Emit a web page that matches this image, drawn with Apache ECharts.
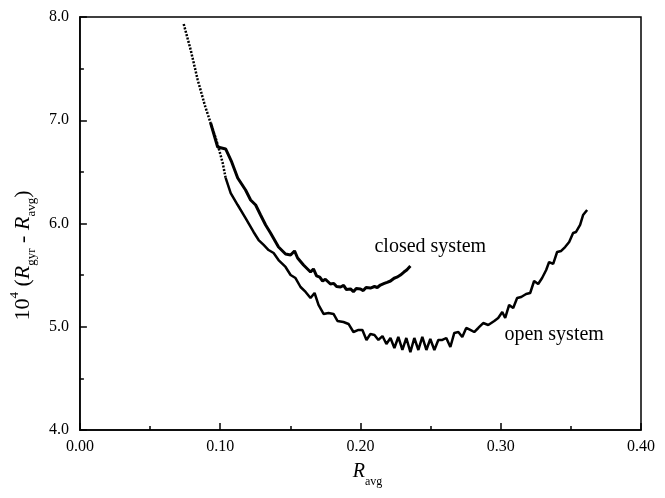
<!DOCTYPE html>
<html>
<head>
<meta charset="utf-8">
<script src="https://cdn.jsdelivr.net/npm/echarts@6/dist/echarts.min.js"></script>
<style>
  html, body { margin: 0; padding: 0; background: #fff; }
  #chart { width: 665px; height: 498px; }
</style>
</head>
<body>
<div id="chart"></div>
<script>
// open system: R_avg and 10^4 (R_gyr - R_avg)
const openR = [
  0.0740, 0.0790, 0.0840, 0.0890, 0.0932, 0.0968, 0.0989, 0.1018, 0.1039, 0.1075,
  0.1125, 0.1181, 0.1238, 0.1274, 0.1310, 0.1345, 0.1381, 0.1416, 0.1466, 0.1502,
  0.1537, 0.1573, 0.1609, 0.1644, 0.1673, 0.1701, 0.1737, 0.1772, 0.1808, 0.1836,
  0.1879, 0.1915, 0.1950, 0.1986, 0.2014, 0.2043, 0.2071, 0.2100, 0.2128, 0.2157,
  0.2185, 0.2214, 0.2242, 0.2270, 0.2299, 0.2327, 0.2356, 0.2384, 0.2413, 0.2441,
  0.2470, 0.2498, 0.2527, 0.2555, 0.2584, 0.2612, 0.2641, 0.2669, 0.2698, 0.2726,
  0.2754, 0.2783, 0.2811, 0.2840, 0.2875, 0.2911, 0.2954, 0.2982, 0.3011, 0.3032,
  0.3060, 0.3089, 0.3117, 0.3146, 0.3181, 0.3210, 0.3238, 0.3267, 0.3295, 0.3324,
  0.3345, 0.3374, 0.3402, 0.3431, 0.3459, 0.3488, 0.3516, 0.3537, 0.3566, 0.3587,
  0.3616
];
const openV = [
  7.932, 7.680, 7.390, 7.148, 6.973, 6.828, 6.731, 6.586, 6.441, 6.295,
  6.179, 6.053, 5.918, 5.840, 5.792, 5.743, 5.714, 5.646, 5.579, 5.501,
  5.472, 5.385, 5.337, 5.278, 5.327, 5.211, 5.124, 5.133, 5.124, 5.056,
  5.046, 5.027, 4.949, 4.969, 4.969, 4.872, 4.930, 4.920, 4.872, 4.910,
  4.833, 4.891, 4.794, 4.901, 4.775, 4.891, 4.755, 4.891, 4.775, 4.901,
  4.775, 4.881, 4.775, 4.872, 4.872, 4.891, 4.804, 4.940, 4.949, 4.901,
  4.988, 4.969, 4.949, 4.988, 5.036, 5.017, 5.056, 5.085, 5.143, 5.085,
  5.211, 5.182, 5.278, 5.288, 5.317, 5.327, 5.443, 5.414, 5.472, 5.550,
  5.627, 5.608, 5.724, 5.734, 5.772, 5.821, 5.908, 5.918, 5.986, 6.082,
  6.131
];
// points of the open curve drawn as a dotted trace (the dense upper part)
const openDottedCount = 9;

// closed system
const closedR = [
  0.0932, 0.0982, 0.1039, 0.1082, 0.1125, 0.1181, 0.1217, 0.1253, 0.1288, 0.1324,
  0.1359, 0.1416, 0.1466, 0.1502, 0.1530, 0.1552, 0.1594, 0.1644, 0.1665, 0.1687,
  0.1710, 0.1730, 0.1750, 0.1786, 0.1810, 0.1830, 0.1858, 0.1880, 0.1900, 0.1929,
  0.1950, 0.1970, 0.2000, 0.2020, 0.2040, 0.2071, 0.2100, 0.2120, 0.2142, 0.2170,
  0.2190, 0.2214, 0.2240, 0.2260, 0.2285, 0.2310, 0.2330, 0.2356
];
const closedV = [
  6.973, 6.741, 6.722, 6.596, 6.441, 6.324, 6.228, 6.179, 6.082, 5.985,
  5.908, 5.772, 5.705, 5.695, 5.734, 5.666, 5.598, 5.530, 5.560, 5.492,
  5.480, 5.443, 5.460, 5.414, 5.420, 5.390, 5.385, 5.400, 5.360, 5.366,
  5.340, 5.370, 5.366, 5.350, 5.380, 5.375, 5.390, 5.380, 5.404, 5.420,
  5.430, 5.443, 5.470, 5.480, 5.501, 5.530, 5.550, 5.588
];

const xTicks = [0, 0.4, 0.1];   // min, max, interval
const yTicks = [4, 8, 1];
const curveLabels = [
  { name: 'closed system', at: [0.2498, 5.772] },
  { name: 'open system', at: [0.3381, 4.920] }
];

const zip = (a, b) => a.map((v, i) => [v, b[i]]);
const openData = zip(openR, openV);
const closedData = zip(closedR, closedV);

const serif = '"Liberation Serif", "DejaVu Serif", serif';
const chart = echarts.init(document.getElementById('chart'));

const axisCommon = {
  axisLine: { show: true, lineStyle: { color: '#000', width: 1.5 } },
  axisTick: { show: true, inside: true, length: 7, lineStyle: { color: '#000', width: 1.5 } },
  minorTick: { show: true, splitNumber: 2, length: 4, lineStyle: { color: '#000', width: 1.5 } },
  splitLine: { show: false },
  axisLabel: { color: '#000', fontFamily: serif, fontSize: 16 }
};

chart.setOption({
  animation: false,
  backgroundColor: '#fff',
  grid: {
    left: 79, right: 24, top: 17, bottom: 68,
    show: true, borderColor: '#000', borderWidth: 1.5
  },
  xAxis: Object.assign({}, axisCommon, {
    type: 'value',
    min: xTicks[0], max: xTicks[1], interval: xTicks[2],
    axisLabel: Object.assign({}, axisCommon.axisLabel, {
      margin: 9,
      formatter: v => v.toFixed(2)
    }),
    name: '{i|R}{sub|avg}',
    nameLocation: 'middle',
    nameGap: 32,
    nameTextStyle: {
      fontFamily: serif, color: '#000',
      padding: [0, 0, 0, 14],
      rich: {
        i: { fontFamily: serif, fontStyle: 'italic', fontSize: 20, lineHeight: 26, verticalAlign: 'top' },
        sub: { fontFamily: serif, fontSize: 12, lineHeight: 26, verticalAlign: 'bottom' }
      }
    }
  }),
  yAxis: Object.assign({}, axisCommon, {
    type: 'value',
    min: yTicks[0], max: yTicks[1], interval: yTicks[2],
    axisLabel: Object.assign({}, axisCommon.axisLabel, {
      margin: 11,
      formatter: v => v.toFixed(1)
    }),
    name: '{n|10}{sup|4}{n| (}{i|R}{sub|gyr}{n| - }{i|R}{sub|avg}{n|)}',
    nameLocation: 'middle',
    nameRotate: 90,
    nameGap: 38,
    nameTextStyle: {
      fontFamily: serif, color: '#000',
      padding: [0, 64, 0, 0],
      rich: {
        n: { fontFamily: serif, fontSize: 22, lineHeight: 30 },
        i: { fontFamily: serif, fontStyle: 'italic', fontSize: 22, lineHeight: 30 },
        sup: { fontFamily: serif, fontSize: 13, lineHeight: 30, verticalAlign: 'top' },
        sub: { fontFamily: serif, fontSize: 13, lineHeight: 30, verticalAlign: 'bottom' }
      }
    }
  }),
  series: [
    {
      name: 'open system (dense)',
      type: 'line',
      data: openData.slice(0, openDottedCount),
      showSymbol: false,
      lineStyle: { color: '#000', width: 2.5, type: [2, 1.5] },
      z: 3
    },
    {
      name: 'open system',
      type: 'line',
      data: openData.slice(openDottedCount - 1),
      showSymbol: false,
      lineStyle: { color: '#000', width: 2.5 },
      markPoint: {
        symbol: 'circle', symbolSize: 0,
        label: { show: true, color: '#000', fontFamily: serif, fontSize: 20, formatter: '{b}' },
        data: [{ name: curveLabels[1].name, coord: curveLabels[1].at }]
      }
    },
    {
      name: 'closed system',
      type: 'line',
      data: closedData,
      showSymbol: false,
      lineStyle: { color: '#000', width: 3 },
      markPoint: {
        symbol: 'circle', symbolSize: 0,
        label: { show: true, color: '#000', fontFamily: serif, fontSize: 20, formatter: '{b}' },
        data: [{ name: curveLabels[0].name, coord: curveLabels[0].at }]
      }
    }
  ]
});
</script>
</body>
</html>
